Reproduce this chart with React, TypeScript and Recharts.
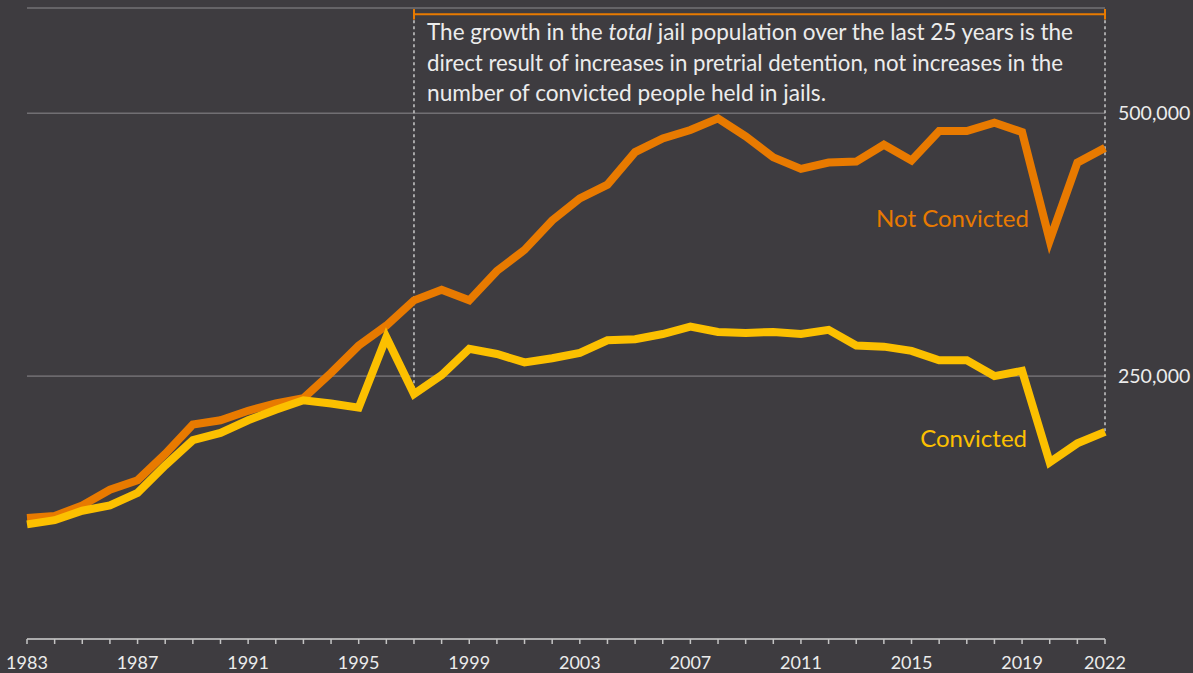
import { LineChart, Line, XAxis, YAxis, CartesianGrid, ReferenceLine } from 'recharts';

const years = [
  1983, 1984, 1985, 1986, 1987, 1988, 1989, 1990, 1991, 1992,
  1993, 1994, 1995, 1996, 1997, 1998, 1999, 2000, 2001, 2002,
  2003, 2004, 2005, 2006, 2007, 2008, 2009, 2010, 2011, 2012,
  2013, 2014, 2015, 2016, 2017, 2018, 2019, 2020, 2021, 2022,
];

const notConvicted = [
  115000, 117000, 127000, 142000, 151000, 176000, 204000, 208000, 217000, 224000,
  229000, 253000, 279000, 298000, 322000, 332000, 322000, 350000, 370000, 398000,
  419000, 432000, 463000, 476000, 484000, 495000, 478000, 458000, 447000, 453000,
  454000, 470000, 455000, 483000, 483000, 491000, 482000, 379000, 453000, 467000,
];

const convicted = [
  109000, 113000, 122000, 127000, 139000, 165000, 189000, 196000, 208000, 218000,
  227000, 224000, 220000, 287000, 233000, 251000, 276000, 271000, 263000, 267000,
  272000, 284000, 285000, 290000, 297000, 292000, 291000, 292000, 290000, 294000,
  279000, 278000, 274000, 265000, 265000, 250000, 255000, 168000, 186000, 197000,
];

const yearLabels = [1983, 1987, 1991, 1995, 1999, 2003, 2007, 2011, 2015, 2019, 2022];
const valueTicks = [250000, 500000];

const annotationStart = 1997;
const annotationEnd = 2022;
const bracketLevel = 594000;

const data = years.map((year, i) => ({
  year,
  notConvicted: notConvicted[i],
  convicted: convicted[i],
}));

const BG = '#3e3c40';
const ORANGE = '#e87a00';
const YELLOW = '#fcc000';
const TEXT = '#ececec';
const FONT = 'Lato, "Open Sans", sans-serif';

const convictedAt = (year: number) => convicted[years.indexOf(year)];

export default function App() {
  return (
    <div style={{ position: 'fixed', left: 0, top: 0, width: 1193, height: 673, background: BG, fontFamily: FONT }}>
      <LineChart width={1193} height={673} data={data} margin={{ top: 8, right: 0, left: 27, bottom: 0 }}>
        <CartesianGrid horizontal vertical={false} stroke="#8c8b8e" strokeWidth={1} />
        <XAxis
          dataKey="year"
          type="number"
          domain={[1983, 2022]}
          ticks={years}
          interval={0}
          height={34}
          tickSize={5}
          tickMargin={12}
          stroke="#c4c4c4"
          strokeWidth={1.5}
          tick={{ fill: TEXT, fontSize: 18, fontFamily: FONT }}
          tickFormatter={(v: number) => (yearLabels.includes(v) ? String(v) : '')}
        />
        <YAxis
          orientation="right"
          type="number"
          domain={[0, 600000]}
          ticks={valueTicks}
          width={88}
          axisLine={false}
          tickLine={false}
          tickSize={0}
          tickMargin={13}
          tick={{ fill: TEXT, fontSize: 19.5, fontFamily: FONT, textAnchor: 'start' }}
          tickFormatter={(v: number) => v.toLocaleString('en-US')}
        />
        <ReferenceLine
          segment={[{ x: annotationStart, y: bracketLevel }, { x: annotationStart, y: convictedAt(annotationStart) }]}
          stroke="#c9c9c9"
          strokeWidth={1.5}
          strokeDasharray="3 3"
        />
        <ReferenceLine
          segment={[{ x: annotationEnd, y: bracketLevel }, { x: annotationEnd, y: convictedAt(annotationEnd) }]}
          stroke="#c9c9c9"
          strokeWidth={1.5}
          strokeDasharray="3 3"
        />
        <Line
          type="linear"
          dataKey="notConvicted"
          stroke={ORANGE}
          strokeWidth={8}
          strokeLinejoin="miter"
          dot={false}
          activeDot={false}
          isAnimationActive={false}
        />
        <Line
          type="linear"
          dataKey="convicted"
          stroke={YELLOW}
          strokeWidth={8}
          strokeLinejoin="miter"
          dot={false}
          activeDot={false}
          isAnimationActive={false}
        />
        <ReferenceLine
          segment={[{ x: annotationStart, y: bracketLevel }, { x: annotationEnd, y: bracketLevel }]}
          stroke={ORANGE}
          strokeWidth={2}
        />
        <ReferenceLine
          segment={[{ x: annotationStart, y: bracketLevel - 5000 }, { x: annotationStart, y: bracketLevel + 5000 }]}
          stroke={ORANGE}
          strokeWidth={2}
        />
        <ReferenceLine
          segment={[{ x: annotationEnd, y: bracketLevel - 5000 }, { x: annotationEnd, y: bracketLevel + 5000 }]}
          stroke={ORANGE}
          strokeWidth={2}
        />
      </LineChart>
      <svg width={1193} height={673} style={{ position: 'absolute', left: 0, top: 0, pointerEvents: 'none' }}>
        <g fill={TEXT} fontFamily={FONT} fontSize={23}>
          <text x={427} y={40} textLength={646} lengthAdjust="spacingAndGlyphs">
            The growth in the <tspan fontStyle="italic">total</tspan> jail population over the last 25 years is the
          </text>
          <text x={427} y={71} textLength={636} lengthAdjust="spacingAndGlyphs">
            direct result of increases in pretrial detention, not increases in the
          </text>
          <text x={427} y={101} textLength={399} lengthAdjust="spacingAndGlyphs">
            number of convicted people held in jails.
          </text>
        </g>
        <text x={1029} y={227} textAnchor="end" fill={ORANGE} fontFamily={FONT} fontSize={24}>
          Not Convicted
        </text>
        <text x={1027} y={447} textAnchor="end" fill={YELLOW} fontFamily={FONT} fontSize={24}>
          Convicted
        </text>
      </svg>
    </div>
  );
}
